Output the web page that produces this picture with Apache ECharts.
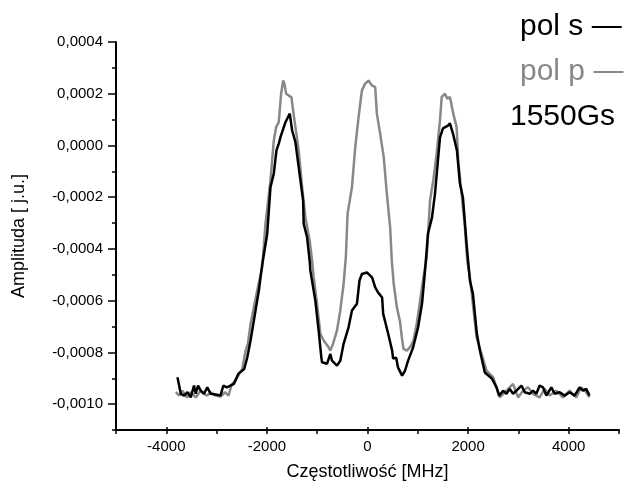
<!DOCTYPE html>
<html>
<head>
<meta charset="utf-8">
<script src="https://cdn.jsdelivr.net/npm/echarts@6/dist/echarts.min.js"></script>
<style>
    html, body { margin: 0; padding: 0; background: #fff; }
    #chart { width: 627px; height: 486px; }
</style>
</head>
<body>
<div id="chart"></div>
<script>
// pol s (black)
const sFreq = [-3778, -3712, -3646, -3580, -3514, -3449, -3415, -3369, -3317, -3251, -3185, -3119, -3021, -2922, -2866, -2800, -2723, -2656, -2565, -2451, -2390, -2325, -2226, -2160, -2093, -1994, -1929, -1863, -1810, -1764, -1730, -1631, -1546, -1498, -1433, -1368, -1280, -1268, -1201, -1150, -1136, -1037, -971, -918, -904, -805, -739, -706, -607, -541, -475, -377, -309, -210, -159, -111, -12, 54, 93, 153, 212, 291, 311, 410, 490, 509, 569, 608, 688, 747, 807, 906, 1005, 1084, 1144, 1203, 1282, 1342, 1441, 1500, 1600, 1639, 1699, 1778, 1837, 1897, 1976, 2036, 2095, 2174, 2234, 2333, 2472, 2565, 2616, 2696, 2763, 2828, 2894, 2961, 3060, 3126, 3225, 3290, 3357, 3423, 3488, 3556, 3655, 3721, 3820, 3919, 4018, 4117, 4216, 4282, 4348, 4414]
const sAmp = [-0.000896, -0.000960, -0.000967, -0.000954, -0.000974, -0.000928, -0.000960, -0.000928, -0.000948, -0.000960, -0.000935, -0.000960, -0.000963, -0.000967, -0.000928, -0.000935, -0.000928, -0.000922, -0.000882, -0.000864, -0.000819, -0.000754, -0.000638, -0.000561, -0.000460, -0.000342, -0.000161, -0.000109, -0.000019, 0.000007, 0.000032, 0.000090, 0.000123, 0.000058, 0.000013, -0.000084, -0.000213, -0.000303, -0.000355, -0.000445, -0.000484, -0.000600, -0.000716, -0.000819, -0.000838, -0.000844, -0.000806, -0.000832, -0.000851, -0.000832, -0.000767, -0.000703, -0.000638, -0.000612, -0.000522, -0.000497, -0.000491, -0.000503, -0.000511, -0.000549, -0.000569, -0.000588, -0.000650, -0.000727, -0.000793, -0.000824, -0.000820, -0.000859, -0.000890, -0.000870, -0.000832, -0.000781, -0.000704, -0.000611, -0.000484, -0.000340, -0.000279, -0.000186, 0.000031, 0.000066, 0.000077, 0.000085, 0.000046, -0.000019, -0.000147, -0.000201, -0.000395, -0.000522, -0.000572, -0.000727, -0.000793, -0.000878, -0.000901, -0.000935, -0.000967, -0.000948, -0.000960, -0.000941, -0.000960, -0.000948, -0.000928, -0.000954, -0.000960, -0.000948, -0.000960, -0.000928, -0.000935, -0.000967, -0.000935, -0.000960, -0.000954, -0.000967, -0.000954, -0.000967, -0.000935, -0.000948, -0.000941, -0.000967]

// pol p (grey)
const pFreq = [-3811, -3745, -3679, -3593, -3514, -3415, -3317, -3251, -3185, -3119, -3021, -2922, -2833, -2763, -2707, -2588, -2490, -2424, -2378, -2325, -2193, -2093, -2028, -1929, -1863, -1816, -1764, -1717, -1677, -1651, -1617, -1566, -1512, -1479, -1433, -1368, -1300, -1235, -1150, -1102, -1070, -1003, -937, -872, -773, -739, -686, -607, -541, -475, -430, -396, -309, -244, -178, -111, -46, 20, 87, 153, 186, 252, 323, 385, 450, 483, 521, 583, 648, 682, 715, 781, 846, 914, 979, 1045, 1112, 1177, 1243, 1308, 1375, 1441, 1475, 1540, 1586, 1639, 1705, 1772, 1804, 1871, 1936, 1982, 2036, 2168, 2267, 2366, 2497, 2565, 2630, 2763, 2894, 2993, 3092, 3191, 3290, 3423, 3522, 3622, 3754, 3885, 4018, 4150, 4249, 4348, 4414]
const pAmp = [-0.000954, -0.000967, -0.000948, -0.000974, -0.000954, -0.000974, -0.000948, -0.000960, -0.000967, -0.000954, -0.000967, -0.000971, -0.000954, -0.000967, -0.000928, -0.000896, -0.000864, -0.000793, -0.000767, -0.000690, -0.000561, -0.000471, -0.000303, -0.000135, 0.000019, 0.000071, 0.000090, 0.000200, 0.000251, 0.000239, 0.000200, 0.000193, 0.000187, 0.000135, 0.000071, -0.000019, -0.000161, -0.000277, -0.000367, -0.000445, -0.000509, -0.000612, -0.000728, -0.000754, -0.000780, -0.000793, -0.000767, -0.000716, -0.000638, -0.000535, -0.000430, -0.000264, -0.000161, -0.000007, 0.000109, 0.000213, 0.000239, 0.000251, 0.000232, 0.000226, 0.000123, 0.000045, -0.000045, -0.000187, -0.000316, -0.000445, -0.000535, -0.000625, -0.000683, -0.000741, -0.000786, -0.000793, -0.000780, -0.000754, -0.000690, -0.000600, -0.000509, -0.000432, -0.000213, -0.000135, -0.000032, 0.000097, 0.000187, 0.000200, 0.000181, 0.000187, 0.000123, 0.000071, -0.000058, -0.000187, -0.000316, -0.000445, -0.000509, -0.000741, -0.000806, -0.000870, -0.000896, -0.000935, -0.000974, -0.000948, -0.000922, -0.000974, -0.000948, -0.000935, -0.000960, -0.000974, -0.000941, -0.000967, -0.000948, -0.000974, -0.000948, -0.000974, -0.000935, -0.000954, -0.000974]

const legendLines = ['pol s \u2014', 'pol p \u2014', '1550Gs']
const legendColors = ['#000000', '#888888', '#000000']

const FONT = '"Liberation Sans", Arial, sans-serif'

const zip = (xs, ys) => xs.map((x, i) => [x, ys[i]])

// three grids: data + minor ticks, y major ticks/labels, x major ticks/labels
const option = {
    animation: false,
    backgroundColor: '#fff',
    grid: [
        { left: 116, right: 8, top: 42, bottom: 56 },
        { left: 116, right: 8, top: 42, height: 362.1 },
        { left: 166.3, width: 402.4, top: 42, bottom: 56 },
    ],
    xAxis: [
        {
            gridIndex: 0, type: 'value', min: -5000, max: 5000, interval: 1000,
            axisLine: { onZero: false, lineStyle: { color: '#000', width: 2 } },
            axisTick: { length: 4, lineStyle: { color: '#000', width: 1.5 } },
            axisLabel: { show: false },
            splitLine: { show: false },
        },
        { gridIndex: 1, type: 'value', min: -5000, max: 5000, show: false },
        {
            gridIndex: 2, type: 'value', min: -4000, max: 4000, interval: 2000,
            axisLine: { show: false, onZero: false },
            axisTick: { length: 7, lineStyle: { color: '#000', width: 1.5 } },
            axisLabel: { color: '#000', fontSize: 15, fontFamily: FONT, margin: 12, formatter: v => String(v) },
            splitLine: { show: false },
            name: 'Częstotliwość [MHz]',
            nameLocation: 'middle',
            nameGap: 36,
            nameTextStyle: { color: '#000', fontSize: 18, fontFamily: FONT },
        },
    ],
    yAxis: [
        {
            gridIndex: 0, type: 'value', min: -0.0011, max: 0.0004, interval: 0.0001,
            axisLine: { show: true, onZero: false, lineStyle: { color: '#000', width: 2 } },
            axisTick: { length: 4, lineStyle: { color: '#000', width: 1.5 } },
            axisLabel: { show: false },
            splitLine: { show: false },
            name: 'Amplituda [ j.u.]',
            nameLocation: 'middle',
            nameGap: 88,
            nameTextStyle: { color: '#000', fontSize: 18, fontFamily: FONT },
        },
        {
            gridIndex: 1, type: 'value', min: -0.0010, max: 0.0004, interval: 0.0002,
            axisLine: { show: false, onZero: false },
            axisTick: { length: 8, lineStyle: { color: '#000', width: 1.5 } },
            axisLabel: {
                color: '#000', fontSize: 15, fontFamily: FONT, margin: 13,
                formatter: v => v.toFixed(4).replace('.', ','),
            },
            splitLine: { show: false },
        },
        { gridIndex: 2, type: 'value', min: -0.0011, max: 0.0004, show: false },
    ],
    series: [
        {
            name: 'pol p', type: 'line', xAxisIndex: 0, yAxisIndex: 0,
            data: zip(pFreq, pAmp), showSymbol: false,
            lineStyle: { color: legendColors[1], width: 2.5 },
        },
        {
            name: 'pol s', type: 'line', xAxisIndex: 0, yAxisIndex: 0,
            data: zip(sFreq, sAmp), showSymbol: false,
            lineStyle: { color: legendColors[0], width: 2.5 },
        },
    ],
    graphic: legendLines.map((t, i) => ({
        type: 'text',
        left: i === 2 ? 510 : 520,
        top: 12 + i * 45,
        style: { text: t, fill: legendColors[i], font: '30px ' + FONT },
    })),
}

let myChart = echarts.init(document.getElementById('chart'))
myChart.setOption(option, true)
</script>
</body>
</html>
